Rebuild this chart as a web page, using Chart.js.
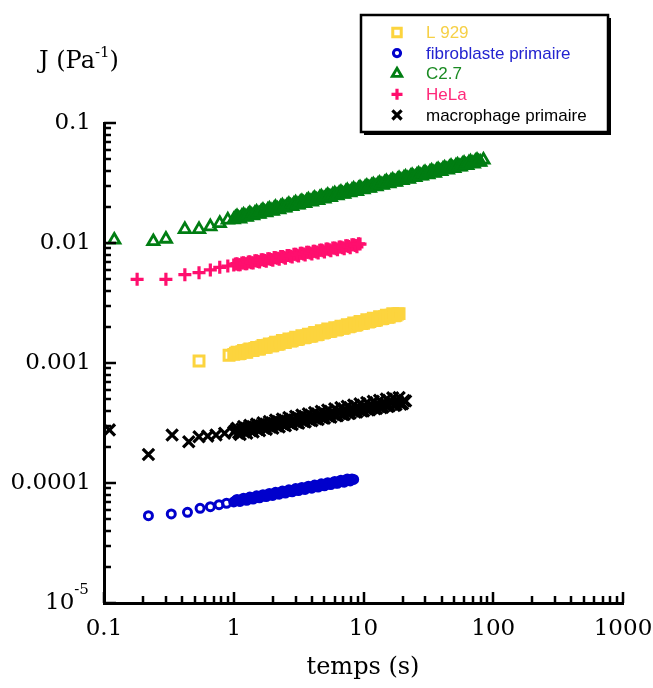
<!DOCTYPE html>
<html>
<head>
<meta charset="utf-8">
<script src="https://cdn.jsdelivr.net/npm/chart.js"></script>
<style>
  body { margin: 0; background: #fff; }
  canvas { display: block; }
</style>
</head>
<body>
<canvas id="chart" width="653" height="688"></canvas>
<script>
// axes
var xTicks = [0.1, 1, 10, 100, 1000];
var xTickLabels = ['0.1', '1', '10', '100', '1000'];
var yTicks = [1e-5, 1e-4, 1e-3, 1e-2, 1e-1];
var yTickLabels = ['', '0.0001', '0.001', '0.01', '0.1']; // 10^-5 drawn apart (exposant)

// temps (s) of the dense part of each curve, shared by the 5 series
var tempsBande = [1.0, 1.06, 1.12, 1.19, 1.26, 1.33, 1.41, 1.5, 1.58, 1.68,
    1.78, 1.88, 2.0, 2.1, 2.24, 2.37, 2.5, 2.66, 2.82, 3.0,
    3.16, 3.35, 3.55, 3.76, 4.0, 4.2, 4.47, 4.73, 5.0, 5.3,
    5.6, 6.0, 6.3, 6.7, 7.1, 7.5, 7.9, 8.4, 8.9, 9.4,
    10, 10.6, 11.2, 11.9, 12.6, 13.3, 14.1, 15, 15.8, 16.8,
    17.8, 18.8, 20, 21.1, 22.4, 23.7, 25.1, 26.6, 28.2, 29.8,
    31.6, 33.5, 35.5, 37.6, 39.8, 42.2, 44.7, 47.3, 50.1, 53.1,
    56.2, 59.6, 63.1, 66.8, 70.8, 75, 79.4, 84];
// the points in between
var tempsMilieu = [1.03, 1.09, 1.155, 1.225, 1.295, 1.37, 1.455, 1.54, 1.63, 1.73,
    1.83, 1.94, 2.05, 2.17, 2.3, 2.44, 2.58, 2.74, 2.91, 3.08,
    3.26, 3.45, 3.65, 3.88, 4.1, 4.34, 4.6, 4.87, 5.15, 5.45,
    5.8, 6.15, 6.5, 6.9, 7.3, 7.7, 8.15, 8.65, 9.15, 9.7,
    10.3, 10.9, 11.55, 12.25, 12.95, 13.7, 14.55, 15.4, 16.3, 17.3,
    18.3, 19.4, 20.5, 21.75, 23.05, 24.4, 25.85, 27.4, 29, 30.7,
    32.55, 34.5, 36.55, 38.7, 41, 43.45, 46, 48.7, 51.6, 54.65,
    57.9, 61.35, 64.95, 68.8, 72.9, 77.2];

// L 929
var tempsDebutL929 = [0.54, 0.92];
var jDebutL929 = [0.00104, 0.00116];
var jBandeL929 = [0.00118, 0.00123, 0.00120, 0.00127, 0.00123, 0.00131, 0.00127, 0.00135, 0.00131, 0.00140,
    0.00135, 0.00144, 0.00139, 0.00149, 0.00144, 0.00154, 0.00148, 0.00159, 0.00153, 0.00164,
    0.00158, 0.00169, 0.00163, 0.00174, 0.00168, 0.00180, 0.00173, 0.00186, 0.00179, 0.00192,
    0.00184, 0.00197, 0.00190, 0.00203, 0.00196, 0.00209, 0.00202, 0.00216, 0.00208, 0.00222,
    0.00214, 0.00229, 0.00221, 0.00236, 0.00228, 0.00243, 0.00235, 0.00250, 0.00242, 0.00257,
    0.00250, 0.00258];
var jMilieuL929 = [1.207e-3, 1.195e-3, 1.244e-3, 1.232e-3, 1.283e-3, 1.270e-3, 1.322e-3, 1.309e-3, 1.362e-3, 1.350e-3,
    1.404e-3, 1.391e-3, 1.448e-3, 1.433e-3, 1.492e-3, 1.478e-3, 1.538e-3, 1.523e-3, 1.586e-3, 1.570e-3,
    1.635e-3, 1.619e-3, 1.686e-3, 1.669e-3, 1.738e-3, 1.721e-3, 1.791e-3, 1.774e-3, 1.846e-3, 1.828e-3,
    1.903e-3, 1.884e-3, 1.962e-3, 1.943e-3, 2.022e-3, 2.003e-3, 2.084e-3, 2.065e-3, 2.149e-3, 2.128e-3,
    2.215e-3, 2.193e-3, 2.284e-3, 2.261e-3, 2.354e-3, 2.331e-3, 2.427e-3, 2.403e-3, 2.502e-3, 2.477e-3,
    2.560e-3];

// fibroblaste primaire
var tempsDebutFibro = [0.22, 0.33, 0.44, 0.55, 0.66, 0.77, 0.88];
var jDebutFibro = [5.34e-5, 5.52e-5, 5.70e-5, 6.15e-5, 6.35e-5, 6.60e-5, 6.78e-5];
var jBandeFibro = [6.95e-5, 7.29e-5, 7.02e-5, 7.47e-5, 7.18e-5, 7.63e-5, 7.35e-5, 7.82e-5, 7.53e-5, 8.00e-5,
    7.70e-5, 8.19e-5, 7.88e-5, 8.37e-5, 8.07e-5, 8.57e-5, 8.25e-5, 8.78e-5, 8.45e-5, 8.98e-5,
    8.64e-5, 9.19e-5, 8.84e-5, 9.40e-5, 9.05e-5, 9.62e-5, 9.26e-5, 9.85e-5, 9.48e-5, 1.007e-4,
    9.70e-5, 1.031e-4, 9.93e-5, 1.056e-4, 1.016e-4, 1.080e-4, 1.040e-4, 1.070e-4];
var jMilieuFibro = [7.11e-5, 7.09e-5, 7.27e-5, 7.26e-5, 7.45e-5, 7.42e-5, 7.62e-5, 7.60e-5, 7.80e-5, 7.78e-5,
    7.98e-5, 7.96e-5, 8.17e-5, 8.14e-5, 8.36e-5, 8.33e-5, 8.55e-5, 8.53e-5, 8.76e-5, 8.73e-5,
    8.96e-5, 8.93e-5, 9.16e-5, 9.14e-5, 9.38e-5, 9.35e-5, 9.60e-5, 9.57e-5, 9.82e-5, 9.79e-5,
    1.006e-4, 1.002e-4, 1.029e-4, 1.026e-4, 1.053e-4, 1.050e-4, 1.078e-4];

// C2.7
var tempsDebutC27 = [0.12, 0.24, 0.30, 0.42, 0.54, 0.66, 0.78, 0.90];
var jDebutC27 = [0.0106, 0.0103, 0.0108, 0.0130, 0.0130, 0.0137, 0.0146, 0.0156];
var jBandeC27 = [0.0157, 0.0166, 0.0159, 0.0171, 0.0164, 0.0176, 0.0169, 0.0181, 0.0174, 0.0187,
    0.0179, 0.0192, 0.0184, 0.0198, 0.0190, 0.0204, 0.0196, 0.0210, 0.0202, 0.0216,
    0.0208, 0.0222, 0.0214, 0.0229, 0.0220, 0.0236, 0.0227, 0.0243, 0.0233, 0.0250,
    0.0240, 0.0257, 0.0248, 0.0265, 0.0255, 0.0273, 0.0263, 0.0281, 0.0270, 0.0289,
    0.0278, 0.0297, 0.0287, 0.0306, 0.0295, 0.0315, 0.0304, 0.0325, 0.0313, 0.0334,
    0.0322, 0.0344, 0.0332, 0.0354, 0.0341, 0.0365, 0.0352, 0.0376, 0.0362, 0.0387,
    0.0372, 0.0398, 0.0383, 0.0410, 0.0395, 0.0422, 0.0407, 0.0435, 0.0419, 0.0447,
    0.0431, 0.0461, 0.0444, 0.0474, 0.0457, 0.0488, 0.0472, 0.0492];
var jMilieuC27 = [0.0162, 0.0161, 0.0167, 0.0166, 0.0172, 0.0170, 0.0177, 0.0175, 0.0183, 0.0181,
    0.0188, 0.0186, 0.0194, 0.0192, 0.0199, 0.0197, 0.0205, 0.0203, 0.0211, 0.0209,
    0.0218, 0.0215, 0.0224, 0.0222, 0.0231, 0.0228, 0.0238, 0.0235, 0.0244, 0.0242,
    0.0252, 0.0249, 0.0259, 0.0257, 0.0267, 0.0264, 0.0275, 0.0272, 0.0283, 0.0280,
    0.0291, 0.0288, 0.0300, 0.0297, 0.0309, 0.0306, 0.0318, 0.0315, 0.0328, 0.0324,
    0.0337, 0.0334, 0.0347, 0.0344, 0.0358, 0.0354, 0.0368, 0.0365, 0.0379, 0.0375,
    0.0390, 0.0386, 0.0402, 0.0398, 0.0414, 0.0410, 0.0426, 0.0422, 0.0439, 0.0434,
    0.0452, 0.0447, 0.0465, 0.0461, 0.0479, 0.0474];

// HeLa
var tempsDebutHeLa = [0.18, 0.30, 0.42, 0.54, 0.66, 0.78, 0.90];
var jDebutHeLa = [0.00498, 0.00498, 0.00545, 0.00566, 0.00596, 0.00627, 0.00643];
var jBandeHeLa = [0.00655, 0.00672, 0.00660, 0.00684, 0.00670, 0.00697, 0.00680, 0.00711, 0.00693, 0.00726,
    0.00705, 0.00740, 0.00719, 0.00755, 0.00733, 0.00771, 0.00748, 0.00788, 0.00763, 0.00804,
    0.00779, 0.00820, 0.00794, 0.00837, 0.00810, 0.00855, 0.00826, 0.00873, 0.00843, 0.00891,
    0.00860, 0.00909, 0.00877, 0.00928, 0.00895, 0.00947, 0.00912, 0.00966, 0.00930, 0.00980];
var jMilieuHeLa = [6.68e-3, 6.58e-3, 6.82e-3, 6.72e-3, 6.96e-3, 6.86e-3, 7.11e-3, 7.00e-3, 7.25e-3, 7.15e-3,
    7.40e-3, 7.29e-3, 7.56e-3, 7.45e-3, 7.71e-3, 7.60e-3, 7.87e-3, 7.76e-3, 8.04e-3, 7.92e-3,
    8.20e-3, 8.08e-3, 8.37e-3, 8.25e-3, 8.55e-3, 8.42e-3, 8.72e-3, 8.60e-3, 8.90e-3, 8.77e-3,
    9.09e-3, 8.95e-3, 9.28e-3, 9.14e-3, 9.47e-3, 9.33e-3, 9.66e-3, 9.52e-3, 9.86e-3];

// macrophage primaire
var tempsDebutMacro = [0.11, 0.22, 0.335, 0.45, 0.54, 0.63, 0.73, 0.85];
var jDebutMacro = [2.77e-4, 1.73e-4, 2.51e-4, 2.21e-4, 2.43e-4, 2.46e-4, 2.51e-4, 2.60e-4];
var jBandeMacro = [2.66e-4, 2.86e-4, 2.54e-4, 2.95e-4, 2.60e-4, 3.02e-4, 2.66e-4, 3.10e-4, 2.73e-4, 3.18e-4,
    2.80e-4, 3.26e-4, 2.86e-4, 3.34e-4, 2.93e-4, 3.42e-4, 3.00e-4, 3.51e-4, 3.07e-4, 3.59e-4,
    3.15e-4, 3.68e-4, 3.22e-4, 3.77e-4, 3.30e-4, 3.86e-4, 3.38e-4, 3.96e-4, 3.46e-4, 4.05e-4,
    3.54e-4, 4.15e-4, 3.63e-4, 4.25e-4, 3.72e-4, 4.36e-4, 3.81e-4, 4.46e-4, 3.90e-4, 4.57e-4,
    3.99e-4, 4.68e-4, 4.09e-4, 4.79e-4, 4.18e-4, 4.90e-4, 4.28e-4, 5.02e-4, 4.38e-4, 5.13e-4,
    4.49e-4, 5.15e-4, 4.58e-4, 4.82e-4];
var jMilieuMacro = [2.755e-4, 2.623e-4, 2.816e-4, 2.681e-4, 2.878e-4, 2.740e-4, 2.941e-4, 2.801e-4, 3.007e-4, 2.863e-4,
    3.074e-4, 2.926e-4, 3.141e-4, 2.991e-4, 3.212e-4, 3.058e-4, 3.282e-4, 3.125e-4, 3.355e-4, 3.194e-4,
    3.429e-4, 3.264e-4, 3.505e-4, 3.337e-4, 3.582e-4, 3.411e-4, 3.661e-4, 3.486e-4, 3.743e-4, 3.563e-4,
    3.826e-4, 3.642e-4, 3.910e-4, 3.723e-4, 3.997e-4, 3.805e-4, 4.085e-4, 3.890e-4, 4.175e-4, 3.975e-4,
    4.267e-4, 4.063e-4, 4.362e-4, 4.153e-4, 4.459e-4, 4.245e-4, 4.557e-4, 4.338e-4, 4.658e-4, 4.435e-4,
    4.761e-4, 4.532e-4, 4.866e-4];

function serie(tDebut, jDebut, jBande, jMilieu) {
    var pts = [];
    for (var i = 0; i < tDebut.length; i++) pts.push({ x: tDebut[i], y: jDebut[i] });
    for (var k = 0; k < jBande.length; k++) pts.push({ x: tempsBande[k], y: jBande[k] });
    for (var m = 0; m < jMilieu.length; m++) pts.push({ x: tempsMilieu[m], y: jMilieu[m] });
    return pts;
}

var vide = 'rgba(0,0,0,0)';

// inward ticks, legend box, titles
var decor = {
    id: 'decor',
    afterDraw: function (chart) {
        var ctx = chart.ctx;
        var xs = chart.scales.x, ys = chart.scales.y, area = chart.chartArea;
        ctx.save();
        ctx.strokeStyle = '#000';
        ctx.lineWidth = 2.5;
        ctx.beginPath();
        for (var d = -1; d <= 3; d++) {
            for (var k = 1; k <= 9; k++) {
                var v = k * Math.pow(10, d);
                if (v < xs.min * 0.999 || v > xs.max * 1.001) continue;
                var px = Math.round(xs.getPixelForValue(v));
                var len = (k === 1) ? 11 : 7;
                ctx.moveTo(px, area.bottom);
                ctx.lineTo(px, area.bottom - len);
            }
        }
        for (d = -5; d <= -1; d++) {
            for (k = 1; k <= 9; k++) {
                v = k * Math.pow(10, d);
                if (v < ys.min * 0.999 || v > ys.max * 1.001) continue;
                var py = Math.round(ys.getPixelForValue(v));
                len = (k === 1) ? 12 : 7;
                ctx.moveTo(area.left, py);
                ctx.lineTo(area.left + len, py);
            }
        }
        ctx.stroke();

        // 10^-5 label
        ctx.fillStyle = '#000';
        ctx.textAlign = 'left';
        ctx.textBaseline = 'alphabetic';
        ctx.font = '23px "DejaVu Serif"';
        ctx.fillText('10', 45, 609);
        var w = ctx.measureText('10').width;
        ctx.font = '15px "DejaVu Serif"';
        ctx.fillText('-5', 45 + w, 594);

        // y title J (Pa-1)
        ctx.font = '24px "DejaVu Serif"';
        ctx.fillText('J (Pa', 39, 68);
        w = ctx.measureText('J (Pa').width;
        ctx.font = '15px "DejaVu Serif"';
        ctx.fillText('-1', 39 + w, 57);
        var w2 = ctx.measureText('-1').width;
        ctx.font = '24px "DejaVu Serif"';
        ctx.fillText(')', 39 + w + w2, 68);

        // x title
        ctx.textAlign = 'center';
        ctx.fillText('temps (s)', 363, 674);

        // legend
        var lx = 361, ly = 15, lw = 247, lh = 117;
        ctx.fillStyle = '#000';
        ctx.fillRect(lx + 3, ly + 3, lw, lh);
        ctx.fillStyle = '#fff';
        ctx.fillRect(lx, ly, lw, lh);
        ctx.lineWidth = 2.5;
        ctx.strokeStyle = '#000';
        ctx.strokeRect(lx, ly, lw, lh);
        chart.data.datasets.forEach(function (ds, i) {
            var y = 32.5 + i * 20.6;
            ctx.strokeStyle = ds.borderColor;
            ctx.fillStyle = vide;
            ctx.lineWidth = ds.borderWidth;
            Chart.helpers.drawPoint(ctx, {
                pointStyle: ds.pointStyle,
                radius: ds.legendRadius,
                rotation: 0,
                borderWidth: ds.borderWidth
            }, 397, y);
            ctx.fillStyle = ds.labelColor;
            ctx.font = '17px "Liberation Sans"';
            ctx.textAlign = 'left';
            ctx.textBaseline = 'middle';
            ctx.fillText(ds.label, 426, y + 1);
        });
        ctx.restore();
    }
};

var chart = new Chart(document.getElementById('chart'), {
    type: 'scatter',
    data: {
        datasets: [{
            label: 'L 929',
            data: serie(tempsDebutL929, jDebutL929, jBandeL929, jMilieuL929),
            pointStyle: 'rect', pointRadius: 7, legendRadius: 6,
            borderColor: '#fcd43e', labelColor: '#f6d046', backgroundColor: vide, borderWidth: 3
        }, {
            label: 'fibroblaste primaire',
            data: serie(tempsDebutFibro, jDebutFibro, jBandeFibro, jMilieuFibro),
            pointStyle: 'circle', pointRadius: 4, legendRadius: 3.6,
            borderColor: '#0000cc', labelColor: '#2323d0', backgroundColor: vide, borderWidth: 3
        }, {
            label: 'C2.7',
            data: serie(tempsDebutC27, jDebutC27, jBandeC27, jMilieuC27),
            pointStyle: 'triangle', pointRadius: 6.5, legendRadius: 5.5,
            borderColor: '#007d12', labelColor: '#1a8a22', backgroundColor: vide, borderWidth: 2.8
        }, {
            label: 'HeLa',
            data: serie(tempsDebutHeLa, jDebutHeLa, jBandeHeLa, jMilieuHeLa),
            pointStyle: 'cross', pointRadius: 6.5, legendRadius: 5.5,
            borderColor: '#ff0f6e', labelColor: '#ff2a7a', backgroundColor: vide, borderWidth: 3.2
        }, {
            label: 'macrophage primaire',
            data: serie(tempsDebutMacro, jDebutMacro, jBandeMacro, jMilieuMacro),
            pointStyle: 'crossRot', pointRadius: 8, legendRadius: 6.5,
            borderColor: '#000000', labelColor: '#000000', backgroundColor: vide, borderWidth: 3.2
        }]
    },
    options: {
        responsive: false,
        animation: false,
        devicePixelRatio: 1,
        layout: { padding: { top: 123, right: 30, left: 0, bottom: 0 } },
        plugins: { legend: { display: false }, tooltip: { enabled: false } },
        elements: { point: { hoverRadius: 0 } },
        scales: {
            x: {
                type: 'logarithmic',
                min: 0.1, max: 1000,
                afterFit: function (s) { s.height = 85; s.paddingLeft = 0; s.paddingRight = 0; },
                afterBuildTicks: function (s) { s.ticks = xTicks.map(function (v) { return { value: v }; }); },
                ticks: {
                    autoSkip: false, maxRotation: 0, padding: 12, color: '#000',
                    font: { family: 'DejaVu Serif', size: 23 },
                    callback: function (v, i) { return xTickLabels[i]; }
                },
                grid: { display: true, drawOnChartArea: false, drawTicks: false },
                border: { display: true, color: '#000', width: 3 }
            },
            y: {
                type: 'logarithmic',
                min: 1e-5, max: 0.1,
                afterFit: function (s) { s.width = 104; s.paddingTop = 0; s.paddingBottom = 0; },
                afterBuildTicks: function (s) { s.ticks = yTicks.map(function (v) { return { value: v }; }); },
                ticks: {
                    autoSkip: false, padding: 13, color: '#000',
                    font: { family: 'DejaVu Serif', size: 23 },
                    callback: function (v, i) { return yTickLabels[i]; }
                },
                grid: { display: true, drawOnChartArea: false, drawTicks: false },
                border: { display: true, color: '#000', width: 3 }
            }
        }
    },
    plugins: [decor]
});
</script>
</body>
</html>
